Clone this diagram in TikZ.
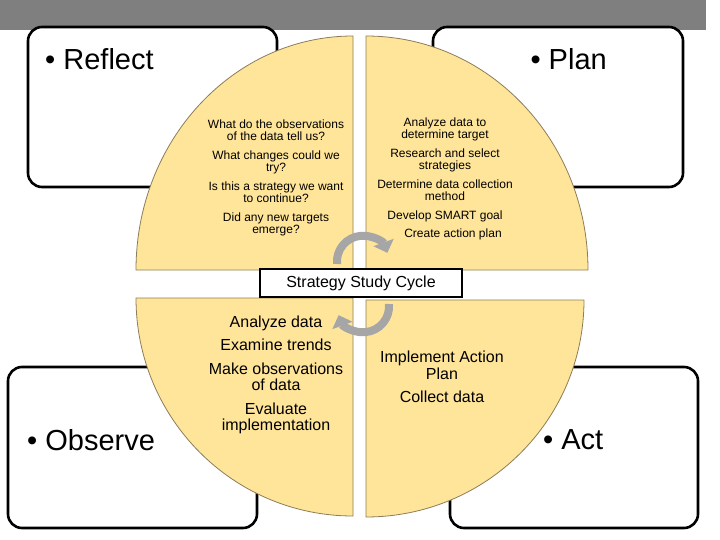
\documentclass[tikz,border=0pt]{standalone}
\usepackage{fontspec}
\setmainfont{Liberation Sans}
\usetikzlibrary{positioning}
\usetikzlibrary{arrows.meta}
\definecolor{quarterfill}{RGB}{255,229,153}
\definecolor{quarterline}{RGB}{140,125,90}
\definecolor{bargray}{RGB}{127,127,127}
\tikzset{
stagebox/.style={
  draw,line width=2.6pt,rounded corners=14pt,fill=white,inner sep=0pt},
stagelabel/.style={
  font=\fontsize{29}{34}\selectfont,inner sep=0pt},
quarter/.style={
  fill=quarterfill,draw=quarterline,line width=0.8pt},
smallnotes/.style={
  align=center,font=\fontsize{12}{12.5}\selectfont,inner sep=0pt},
bignotes/.style={
  align=center,font=\fontsize{16}{16.5}\selectfont,inner sep=0pt},
cyclearrow/.style={
  draw=black!35,line width=8pt,-{Triangle[length=11pt,width=21pt]}}
}
\begin{document}
\begin{tikzpicture}[x=1pt,y=-1pt,
  cyclebox/.style={draw,line width=2.6pt,fill=white,minimum width=202pt,
    minimum height=28pt,inner sep=0pt,font=\fontsize{16}{18}\selectfont}]
\useasboundingbox (0,0) rectangle (720,540);
\fill[bargray] (0,0) rectangle (706,30);

\node[stagebox,minimum width=249pt,minimum height=160pt](reflectbox) at (152.5,107){};
\node[stagebox,minimum width=250pt,minimum height=160pt](planbox) at (558,107){};
\node[stagebox,minimum width=249pt,minimum height=161pt](observebox) at (132.5,447.5){};
\node[stagebox,minimum width=248pt,minimum height=161pt](actbox) at (574,447.5){};

\coordinate (tlc) at (353,270);
\coordinate (trc) at (366,270);
\coordinate (blc) at (353,298);
\coordinate (brc) at (366,300);
\draw[quarter] (tlc) -- ++(-217pt,0) arc[start angle=180,end angle=90,x radius=217pt,y radius=234pt] -- cycle;
\draw[quarter] (trc) -- ++(222pt,0) arc[start angle=0,end angle=90,x radius=222pt,y radius=234pt] -- cycle;
\draw[quarter] (blc) -- ++(-217pt,0) arc[start angle=180,end angle=270,x radius=217pt,y radius=218pt] -- cycle;
\draw[quarter] (brc) -- ++(218pt,0) arc[start angle=0,end angle=-90,x radius=218pt,y radius=217pt] -- cycle;

\node[stagelabel,anchor=west](reflect) at (45,59){\textbullet\ Reflect};
\node[stagelabel,anchor=east](plan) at (607,59){\textbullet\ Plan};
\node[stagelabel,anchor=west](observe) at (27,440){\textbullet\ Observe};
\node[stagelabel,anchor=west](act) at (543,440){\textbullet\ Act};

\node[smallnotes](reflectnotes) at (276,178){What do the observations\\of the data tell us?\\[6pt]
  What changes could we\\try?\\[6pt]Is this a strategy we want\\to continue?\\[6pt]
  Did any new targets\\emerge?};
\node[smallnotes](plannotes) at (445,179){Analyze data to\\determine target\\[6pt]
  Research and select\\strategies\\[6pt]Determine data collection\\method\\[6pt]
  Develop SMART goal\\[6pt]\hspace*{16pt}Create action plan};
\node[bignotes](observenotes) at (276,375){Analyze data\\[7pt]Examine trends\\[7pt]
  Make observations\\of data\\[7pt]Evaluate\\implementation};
\node[bignotes](actnotes) at (442,377){Implement Action\\Plan\\[7pt]Collect data};

\draw[cyclearrow] (337,264) arc[start angle=185,end angle=20,radius=26pt];
\draw[cyclearrow] (389,304) arc[start angle=5,end angle=-160,radius=26pt];

\node[cyclebox](cycle) at (361,283){Strategy Study Cycle};

\end{tikzpicture}
\end{document}
